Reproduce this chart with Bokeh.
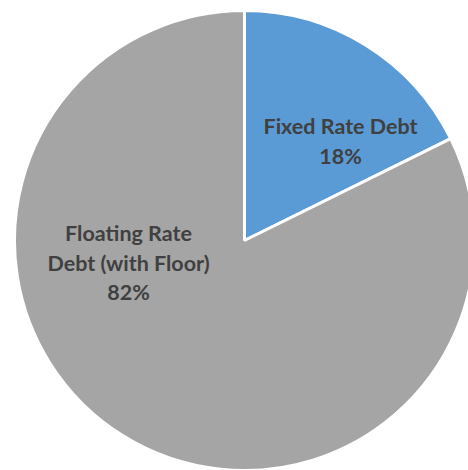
import numpy as np
from bokeh.plotting import figure
from bokeh.models import ColumnDataSource
from bokeh.core.properties import value
from bokeh.embed import file_html
from bokeh.resources import INLINE

# data
categories = ["Fixed Rate Debt", "Floating Rate Debt (with Floor)"]
shares = [17.7, 82.3]
colors = ["#5B9BD5", "#A5A5A5"]
pct_labels = ["18%", "82%"]

W, H = 468, 470
p = figure(width=W, height=H, x_range=(0, W), y_range=(0, H),
           output_backend="svg", toolbar_location=None, min_border=0)
p.axis.visible = False
p.grid.visible = False
p.outline_line_color = None
p.background_fill_color = "white"

cx, cy, R = 244, H - 240, 230
fr = np.array(shares) / sum(shares)
ends_cw = 2 * np.pi * np.cumsum(fr)
starts_cw = ends_cw - 2 * np.pi * fr
# clockwise from 12 o'clock -> bokeh anticlockwise angles
top = np.pi / 2
start_angles = top - ends_cw
end_angles = top - starts_cw
src = ColumnDataSource(dict(cat=categories, start=start_angles, end=end_angles, color=colors))
p.wedge(x=cx, y=cy, radius=R, start_angle="start", end_angle="end",
        fill_color="color", line_color="white", line_width=3, source=src)

font = value("Lato")
lines = [
    (340, 125, "Fixed Rate Debt"),
    (340, 155, pct_labels[0]),
    (128, 232, "Floating Rate"),
    (128, 262, "Debt (with Floor)"),
    (128, 291, pct_labels[1]),
]
tx = [l[0] for l in lines]
ty = [H - l[1] for l in lines]
tt = [l[2] for l in lines]
p.text(x=tx, y=ty, text=tt, text_font=font, text_font_style="bold",
       text_font_size="21.5px", text_color="#404040",
       text_align="center", text_baseline="middle")

open("out.html", "w").write(file_html(p, INLINE))
